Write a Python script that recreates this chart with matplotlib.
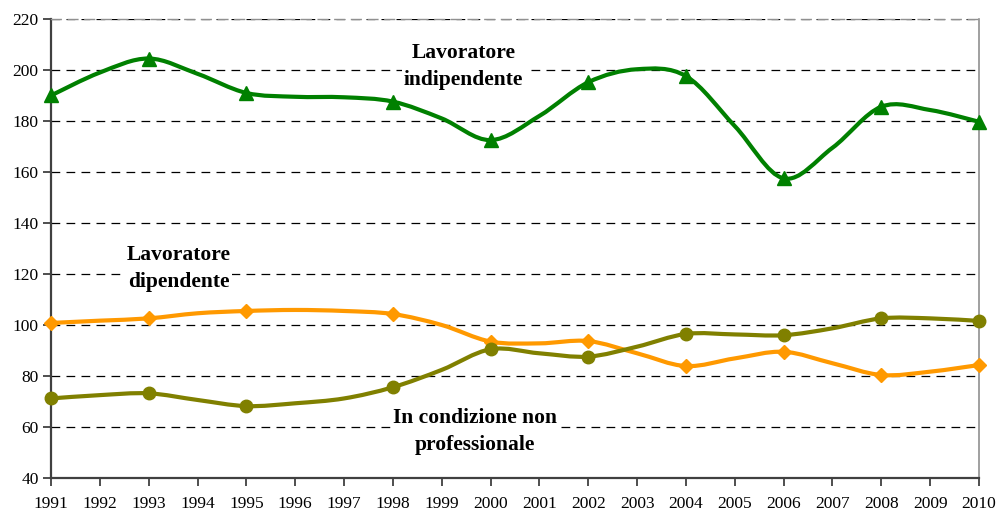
import matplotlib
matplotlib.use("Agg")
import matplotlib.pyplot as plt
from matplotlib.path import Path
from matplotlib.patches import PathPatch
import numpy as np

years = list(range(1991, 2011))
indipendente = [190, 199, 204.5, 198.5, 191, 189.5, 189.3, 187.6, 181, 172.5,
                182, 195.2, 200.3, 197.6, 178, 157.5, 169.5, 185.6, 184.3, 179.7]
dipendente = [100.8, 101.7, 102.6, 104.6, 105.5, 105.9, 105.5, 104.3, 100, 93.5,
              92.8, 93.7, 88.9, 83.9, 86.9, 89.5, 85, 80.4, 81.7, 84.3]
non_prof = [71.2, 72.5, 73.2, 70.6, 68.2, 69.3, 71.2, 75.6, 82.4, 90.5,
            88.9, 87.6, 91.5, 96.5, 96.3, 96, 98.7, 102.6, 102.6, 101.6]
marker_years = [1991, 1993, 1995, 1998, 2000, 2002, 2004, 2006, 2008, 2010]

label_indip = "Lavoratore\nindipendente"
label_dip = "Lavoratore\ndipendente"
label_np = "In condizione non\nprofessionale"

plt.rcParams['font.family'] = ['Liberation Serif', 'DejaVu Serif']

fig = plt.figure(figsize=(9.98, 5.13), dpi=100)
ax = fig.add_axes([51/998, 1-478/513, (979-51)/998, (478-19)/513])


def smooth_path(x, y):
    x = np.asarray(x, float)
    y = np.asarray(y, float)
    n = len(x)
    verts = [(x[0], y[0])]
    codes = [Path.MOVETO]
    for i in range(n - 1):
        i0 = max(i - 1, 0)
        i3 = min(i + 2, n - 1)
        c1 = (x[i] + (x[i + 1] - x[i0]) / 6, y[i] + (y[i + 1] - y[i0]) / 6)
        c2 = (x[i + 1] - (x[i3] - x[i]) / 6, y[i + 1] - (y[i3] - y[i]) / 6)
        verts += [c1, c2, (x[i + 1], y[i + 1])]
        codes += [Path.CURVE4] * 3
    return Path(verts, codes)


series = [
    (indipendente, '#008000', '^', 10),
    (dipendente, '#FF9900', 'D', 7.5),
    (non_prof, '#808000', 'o', 9),
]
for vals, col, mk, ms in series:
    ax.add_patch(PathPatch(smooth_path(years, vals), facecolor='none',
                           edgecolor=col, lw=3.0, capstyle='round',
                           joinstyle='round', zorder=3))
    mx = [yr for yr in marker_years]
    my = [vals[years.index(yr)] for yr in marker_years]
    ax.plot(mx, my, linestyle='none', marker=mk, markersize=ms, color=col,
            markeredgecolor=col, zorder=4, clip_on=False)

ax.set_xlim(1991, 2010)
ax.set_ylim(40, 220)
ax.set_xticks(years)
ax.set_xticklabels([str(y) for y in years])
ax.set_yticks(range(40, 221, 20))

ax.yaxis.grid(True, color='black', linestyle=(0, (7, 5)), linewidth=0.9)
ax.set_axisbelow(True)

for s in ['left', 'bottom']:
    ax.spines[s].set_color('#404040')
    ax.spines[s].set_linewidth(1.6)
ax.spines['right'].set_color('#909090')
ax.spines['right'].set_linewidth(1.2)
ax.spines['top'].set_color('#909090')
ax.spines['top'].set_linestyle((0, (7, 5)))
ax.spines['top'].set_linewidth(1.0)

ax.tick_params(axis='both', direction='out', length=6, width=1.3,
               color='#404040', labelsize=12.5, labelcolor='black')
ax.tick_params(axis='x', pad=7)
ax.tick_params(axis='y', pad=3)


def two_line_label(text, xc, baselines):
    for line, yb in zip(text.split('\n'), baselines):
        ax.text(xc, yb, line, ha='center', va='baseline', fontsize=15.5,
                fontweight='bold', zorder=2.5,
                bbox=dict(facecolor='white', edgecolor='none', pad=1.5))


two_line_label(label_indip, 1999.45, (204.6, 194.1))
two_line_label(label_dip, 1993.62, (125.5, 115.0))
two_line_label(label_np, 1999.68, (61.6, 51.0))

fig.savefig('out.png', dpi=100)
